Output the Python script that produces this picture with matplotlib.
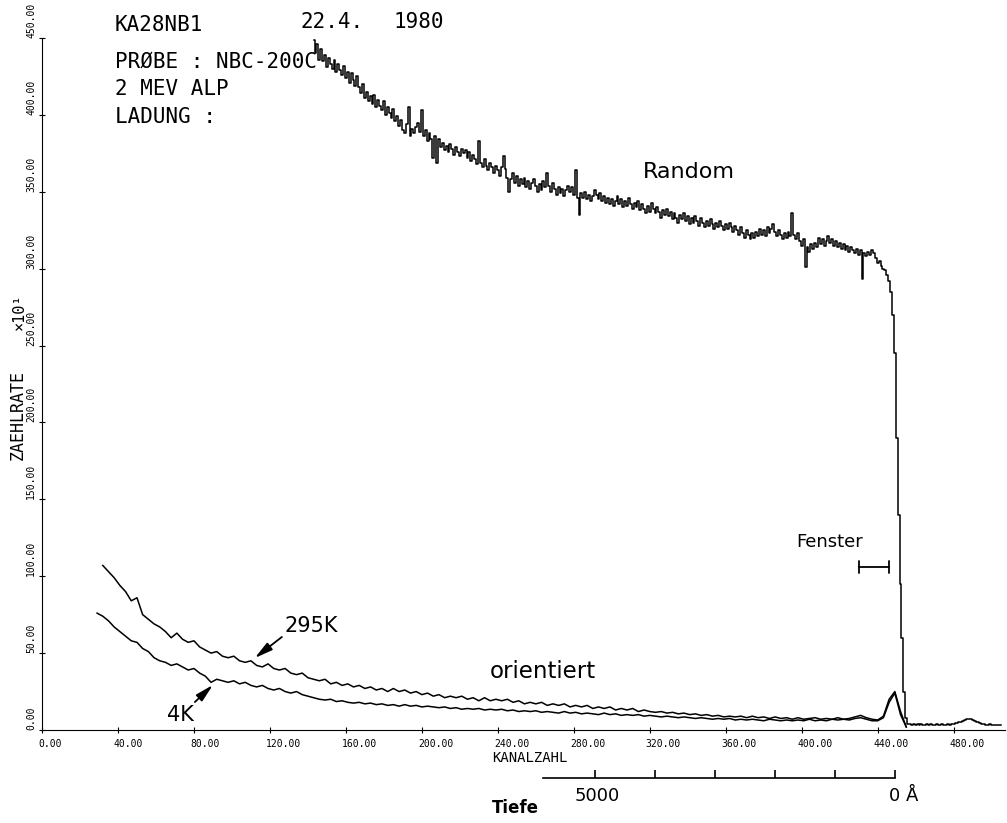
import numpy as np
import matplotlib
matplotlib.use("Agg")
import matplotlib.pyplot as plt
import matplotlib.transforms as mtransforms

W, H = 1007, 823

# Random spectrum, one value per channel starting at channel 143 (x10^1 counts)
random_start = 143
random_counts = [
    449, 440, 446, 436, 443, 435, 439, 431, 437, 433,
    430, 436, 428, 433, 429, 426, 432, 424, 428, 421,
    427, 423, 419, 425, 418, 414, 420, 411, 415, 409,
    412, 407, 413, 405, 410, 406, 403, 409, 400, 405,
    401, 398, 404, 396, 399, 393, 397, 390, 388, 394,
    405, 386, 391, 388, 392, 395, 389, 403, 386, 390,
    383, 388, 384, 372, 386, 369, 384, 379, 382, 377,
    380, 376, 381, 378, 374, 379, 376, 373, 378, 375,
    377, 372, 376, 370, 374, 371, 368, 383, 369, 366,
    371, 367, 364, 369, 366, 362, 367, 364, 360, 366,
    373, 365, 359, 350, 358, 362, 356, 360, 354, 358,
    355, 359, 353, 357, 352, 356, 358, 354, 350, 355,
    351, 357, 353, 362, 354, 350, 356, 352, 348, 353,
    349, 352, 347, 351, 354, 350, 353, 348, 364, 346,
    335, 349, 346, 350, 345, 348, 344, 347, 351, 348,
    345, 349, 344, 347, 343, 346, 342, 345, 341, 344,
    347, 342, 345, 340, 344, 341, 346, 342, 339, 343,
    340, 344, 338, 342, 339, 336, 341, 337, 343, 339,
    336, 340, 337, 333, 338, 335, 339, 334, 337, 332,
    336, 333, 330, 335, 332, 336, 331, 334, 329, 333,
    330, 334, 331, 328, 333, 330, 327, 331, 328, 332,
    329, 326, 330, 327, 331, 328, 325, 329, 326, 330,
    327, 324, 328, 325, 322, 327, 323, 320, 325, 322,
    319, 323, 320, 324, 321, 326, 322, 325, 321, 327,
    323, 326, 329, 324, 321, 325, 322, 319, 323, 320,
    324, 321, 336, 322, 319, 323, 318, 315, 319, 301,
    314, 311, 316, 313, 317, 314, 320, 316, 319, 315,
    318, 321, 317, 319, 315, 318, 314, 317, 313, 316,
    312, 315, 311, 314, 312, 310, 313, 309, 312, 293,
    310, 308, 311, 309, 312, 310, 307, 304, 305, 302,
    300, 299, 296, 292, 285, 270, 245, 190, 140, 95,
    60, 25, 8, 4, 4, 3.5, 4, 3.5, 4, 3.5,
    4, 3.5, 3.5, 4, 3.5, 4, 3.5, 3.5, 4, 3.5,
    3.5, 4, 3.5, 3.5, 4, 3.5, 4, 4, 4.5, 4.5,
    5, 5.5, 6, 6.5, 7, 7, 7, 6.5, 6, 5.5,
    5, 4.5, 4, 4, 3.5, 3.5, 4, 3.5, 3.5, 3.5,
    3.5, 3.5, 3.5,
]

# aligned spectra, every 3rd channel
k295_start = 32
k295_counts = [
    107, 103, 99, 94, 90, 84, 86, 75, 72, 69,
    67, 64, 60, 63, 59, 57, 58, 54, 52, 50,
    51, 48, 47, 48, 45, 44, 45, 42, 41, 43,
    40, 39, 40, 37, 36, 37, 34, 33, 32, 33,
    30, 31, 29, 30, 28, 29, 27, 28, 26, 27,
    25, 27, 25, 26, 24, 25, 23, 24, 22, 23,
    21, 22, 21, 22, 20, 21, 19, 21, 19, 20,
    19, 20, 18, 19, 17, 18, 17, 18, 16, 17,
    16, 17, 15, 16, 15, 16, 14, 15, 14, 15,
    13, 14, 13, 14, 12, 13, 12, 11.5, 12, 11,
    11.5, 10.5, 11, 10, 10.5, 9.5, 10, 9, 9.5, 8.5,
    9, 8.5, 9, 8, 9, 8, 8.5, 7.5, 8.5, 7.5,
    8, 7, 8, 7, 7.5, 8, 7, 7.5, 7, 8,
    7, 7.5, 8.5, 9.5, 8, 7, 6.5, 9, 20, 25,
    12, 2,
]

k4_start = 29
k4_counts = [
    76, 74, 71, 67, 64, 61, 58, 57, 53, 51,
    47, 45, 44, 42, 43, 41, 39, 40, 37, 35,
    31, 33, 32, 31, 32, 30, 31, 29, 28, 29,
    27, 26, 27, 25, 24, 25, 23, 22, 21, 20,
    19.5, 20, 18.5, 19, 18, 17.5, 18, 17, 17.5, 16.5,
    17, 16, 16.5, 15.5, 16.5, 15.5, 16, 15, 15.5, 15,
    14.5, 15, 14, 14.5, 13.5, 14, 13.5, 14, 13, 13.5,
    13, 13.5, 12.5, 13, 12, 12.5, 12, 12.5, 11.5, 12,
    11.5, 11, 12, 11, 11.5, 10.5, 11, 10.5, 10, 11,
    10, 10.5, 9.5, 10, 9.5, 10, 9, 9.5, 9, 8.5,
    9, 8.5, 8, 8.5, 8, 7.5, 8, 7.5, 7, 7.5,
    7, 7.5, 6.5, 7, 6.5, 7, 6.5, 6, 7, 6.5,
    6, 6.5, 6, 6.5, 6, 7, 6, 6.5, 6, 7,
    6.5, 7, 6.5, 7.5, 8, 7, 6, 6, 8, 18,
    24, 10, 2,
]

x_ticks = [0, 40, 80, 120, 160, 200, 240, 280, 320, 360, 400, 440, 480]
y_ticks = [0, 50, 100, 150, 200, 250, 300, 350, 400, 450]
depth_ticks = [0, 1000, 2000, 3000, 4000, 5000]

ch_random = np.arange(random_start, random_start + len(random_counts))
ch_295 = np.arange(k295_start, k295_start + 3 * len(k295_counts), 3)
ch_4 = np.arange(k4_start, k4_start + 3 * len(k4_counts), 3)

mono = "DejaVu Sans Mono"
sans = "DejaVu Sans"

fig = plt.figure(figsize=(W / 100, H / 100), dpi=100)
ax = fig.add_axes([42 / W, 1 - 730 / H, (1005 - 42) / W, (730 - 38) / H])

ax.plot(ch_random, random_counts, color="black", lw=1.1, drawstyle="steps-mid")
ax.plot(ch_295, k295_counts, color="black", lw=1.1)
ax.plot(ch_4, k4_counts, color="black", lw=1.1)

ax.set_xlim(0, 507)
ax.set_ylim(0, 450)
ax.spines["top"].set_visible(False)
ax.spines["right"].set_visible(False)

ax.set_xticks(x_ticks)
ax.set_xticklabels([f"{v:.2f}" for v in x_ticks], fontfamily=mono, fontsize=7)
ax.set_yticks(y_ticks)
ax.set_yticklabels([f"{v:.2f}" for v in y_ticks], fontfamily=mono, fontsize=7,
                   rotation=90, va="bottom")
ax.tick_params(axis="x", direction="inout", length=5, pad=4)
ax.tick_params(axis="y", direction="inout", length=5, pad=1.6)

shift = mtransforms.ScaledTranslation(-4 / 100, 0, fig.dpi_scale_trans)
for lab in ax.get_xticklabels():
    lab.set_ha("left")
    lab.set_transform(lab.get_transform() + shift)


def ft(px, py, s, **kw):
    fig.text(px / W, 1 - py / H, s, **kw)


# axis titles
ft(492, 758, "KANALZAHL", family=mono, fontsize=10, va="center", ha="left")
ft(18, 415, "ZAEHLRATE", family=mono, fontsize=12, rotation=90, va="center", ha="center")
ft(19, 312, "\u00d710\u00b9", family=mono, fontsize=11, rotation=90, va="center", ha="center")

# header
ft(115, 25, "KA28NB1", family=mono, fontsize=15, va="center")
ft(300, 22, "22.4.", family=mono, fontsize=15, va="center")
ft(393, 22, "1980", family=mono, fontsize=15, va="center")
ft(115, 62, "PR\u00d8BE : NBC-200C", family=mono, fontsize=15, va="center")
ft(115, 89, "2 MEV ALP", family=mono, fontsize=15, va="center")
ft(115, 117, "LADUNG :", family=mono, fontsize=15, va="center")

# curve labels
ft(643, 172, "Random", family=sans, fontsize=16, va="center")
ft(490, 671, "orientiert", family=sans, fontsize=16.5, va="center")
ft(796, 542, "Fenster", family=sans, fontsize=13, va="center")
ft(285, 626, "295K", family=sans, fontsize=15, va="center")
ft(167, 715, "4K", family=sans, fontsize=15, va="center")

arrow = dict(arrowstyle="-|>,head_length=0.9,head_width=0.22", color="black",
             lw=1.3, shrinkA=0, shrinkB=0, mutation_scale=12)
ax.annotate("", xy=(112, 46.8), xytext=(126.3, 60.5), arrowprops=arrow)
ax.annotate("", xy=(90, 29.3), xytext=(80.5, 18.2), arrowprops=arrow)

# window bracket
ax.annotate("", xy=(430, 106), xytext=(446, 106),
            arrowprops=dict(arrowstyle="|-|,widthA=0.45,widthB=0.45", color="black",
                            lw=1.3, shrinkA=0, shrinkB=0, mutation_scale=10))

# depth scale
dax = fig.add_axes([543 / W, 1 - 778 / H, (895 - 543) / W, 0.01])
dax.set_xlim(5867, 0)
dax.set_xticks(depth_ticks)
dax.set_xticklabels([])
dax.set_yticks([])
dax.patch.set_visible(False)
for s in ["top", "left", "right"]:
    dax.spines[s].set_visible(False)
dax.spines["bottom"].set_linewidth(1.2)
dax.tick_params(axis="x", direction="in", length=6, width=1.2)

ft(597, 796, "5000", family=sans, fontsize=13, va="center", ha="center")
ft(889, 796, "0 \u00c5", family=sans, fontsize=13, va="center", ha="left")
ft(492, 808, "Tiefe", family=sans, fontsize=12, fontweight="bold", va="center")

fig.savefig("out.png", dpi=100)
